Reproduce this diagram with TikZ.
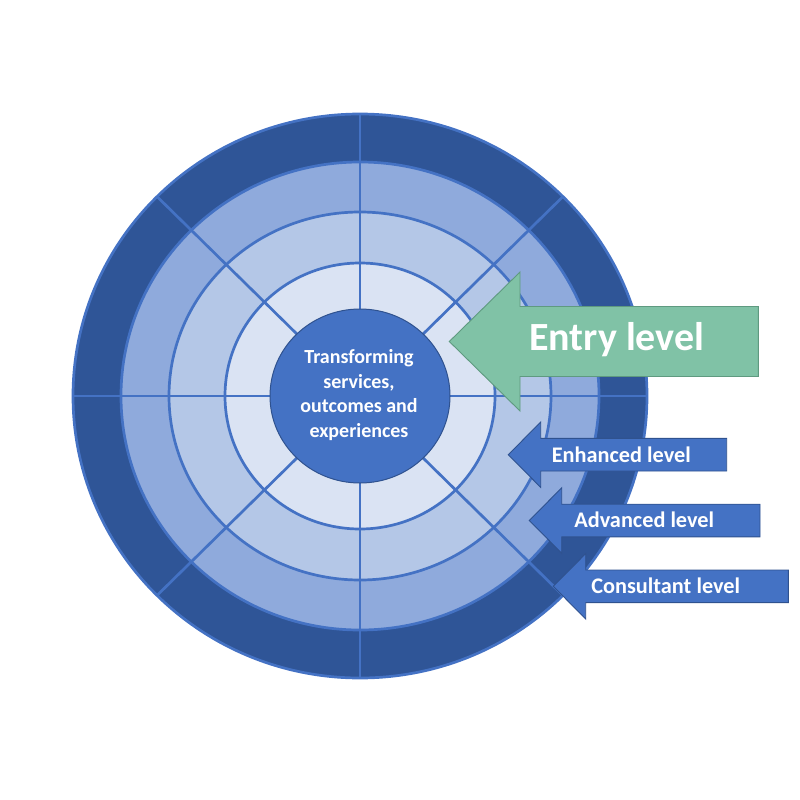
\documentclass[tikz,border=0pt]{standalone}
\usepackage{fontspec}
\setmainfont{Carlito}
\usetikzlibrary{calc}
\definecolor{ringA}{HTML}{2F5597}
\definecolor{ringB}{HTML}{8FAADC}
\definecolor{ringC}{HTML}{B4C7E7}
\definecolor{ringD}{HTML}{DAE3F3}
\definecolor{accent}{HTML}{4472C4}
\definecolor{darkedge}{HTML}{2F528F}
\definecolor{entrygreen}{HTML}{80C2A6}
\definecolor{entryedge}{HTML}{5F9A80}
\begin{document}
\begin{tikzpicture}[x=1pt,y=-1pt,
  divider/.style={draw=accent,line width=2.7pt},
  smallarrow/.style={fill=accent,draw=darkedge,line width=0.9pt,line join=miter},
  bigarrow/.style={fill=entrygreen,draw=entryedge,line width=0.9pt,line join=miter},
  lbl/.style={text=white,font=\bfseries\fontsize{22.3}{26}\selectfont,inner sep=0pt,anchor=base},
  hubtext/.style={text=white,font=\bfseries\fontsize{20}{24.8}\selectfont,align=center,inner sep=0pt}
]
\useasboundingbox (0,0) rectangle (800,800);
\coordinate (c) at (360,396);
% rings
\fill[ringA] (c) ellipse [x radius=287pt,y radius=282pt];
\fill[ringB] (c) ellipse [x radius=239pt,y radius=234pt];
\fill[ringC] (c) ellipse [x radius=191pt,y radius=184pt];
\fill[ringD] (c) ellipse [x radius=135pt,y radius=133pt];
% radial dividers
\foreach \a in {0,45,...,315}
  \draw[divider] (c) -- ($(c)+(\a:287 and 282)$);
% ring boundaries
\draw[divider] (c) ellipse [x radius=287pt,y radius=282pt];
\draw[divider] (c) ellipse [x radius=239pt,y radius=234pt];
\draw[divider] (c) ellipse [x radius=191pt,y radius=184pt];
\draw[divider] (c) ellipse [x radius=135pt,y radius=133pt];
% hub
\draw[fill=accent,draw=darkedge,line width=1pt] (c) ellipse [x radius=90pt,y radius=87pt];
\node[hubtext] (hub) at (359,395) {Transforming\\services,\\outcomes and\\experiences};
% arrows
\draw[bigarrow] (449.3,341.5) -- (520,272) -- (520,306.5) -- (758.3,306.5) -- (758.3,376.5) -- (520,376.5) -- (520,411) -- cycle;
\draw[smallarrow] (508.3,454.7) -- (540.7,422) -- (540.7,438.4) -- (726.7,438.4) -- (726.7,471) -- (540.7,471) -- (540.7,487.4) -- cycle;
\draw[smallarrow] (529.3,520.5) -- (561.7,487.8) -- (561.7,504.2) -- (760,504.2) -- (760,536.8) -- (561.7,536.8) -- (561.7,553.2) -- cycle;
\draw[smallarrow] (553.3,586.3) -- (585.7,553.6) -- (585.7,570) -- (788.3,570) -- (788.3,602.6) -- (585.7,602.6) -- (585.7,619) -- cycle;
% labels
\node[lbl,font=\bfseries\fontsize{40}{48}\selectfont] (entry) at (616.7,350.7) {Entry level};
\node[lbl] (enhanced) at (621.3,462.3) {Enhanced level};
\node[lbl] (advanced) at (644.2,527.3) {Advanced level};
\node[lbl] (consultant) at (665.7,593.3) {Consultant level};
\end{tikzpicture}
\end{document}
